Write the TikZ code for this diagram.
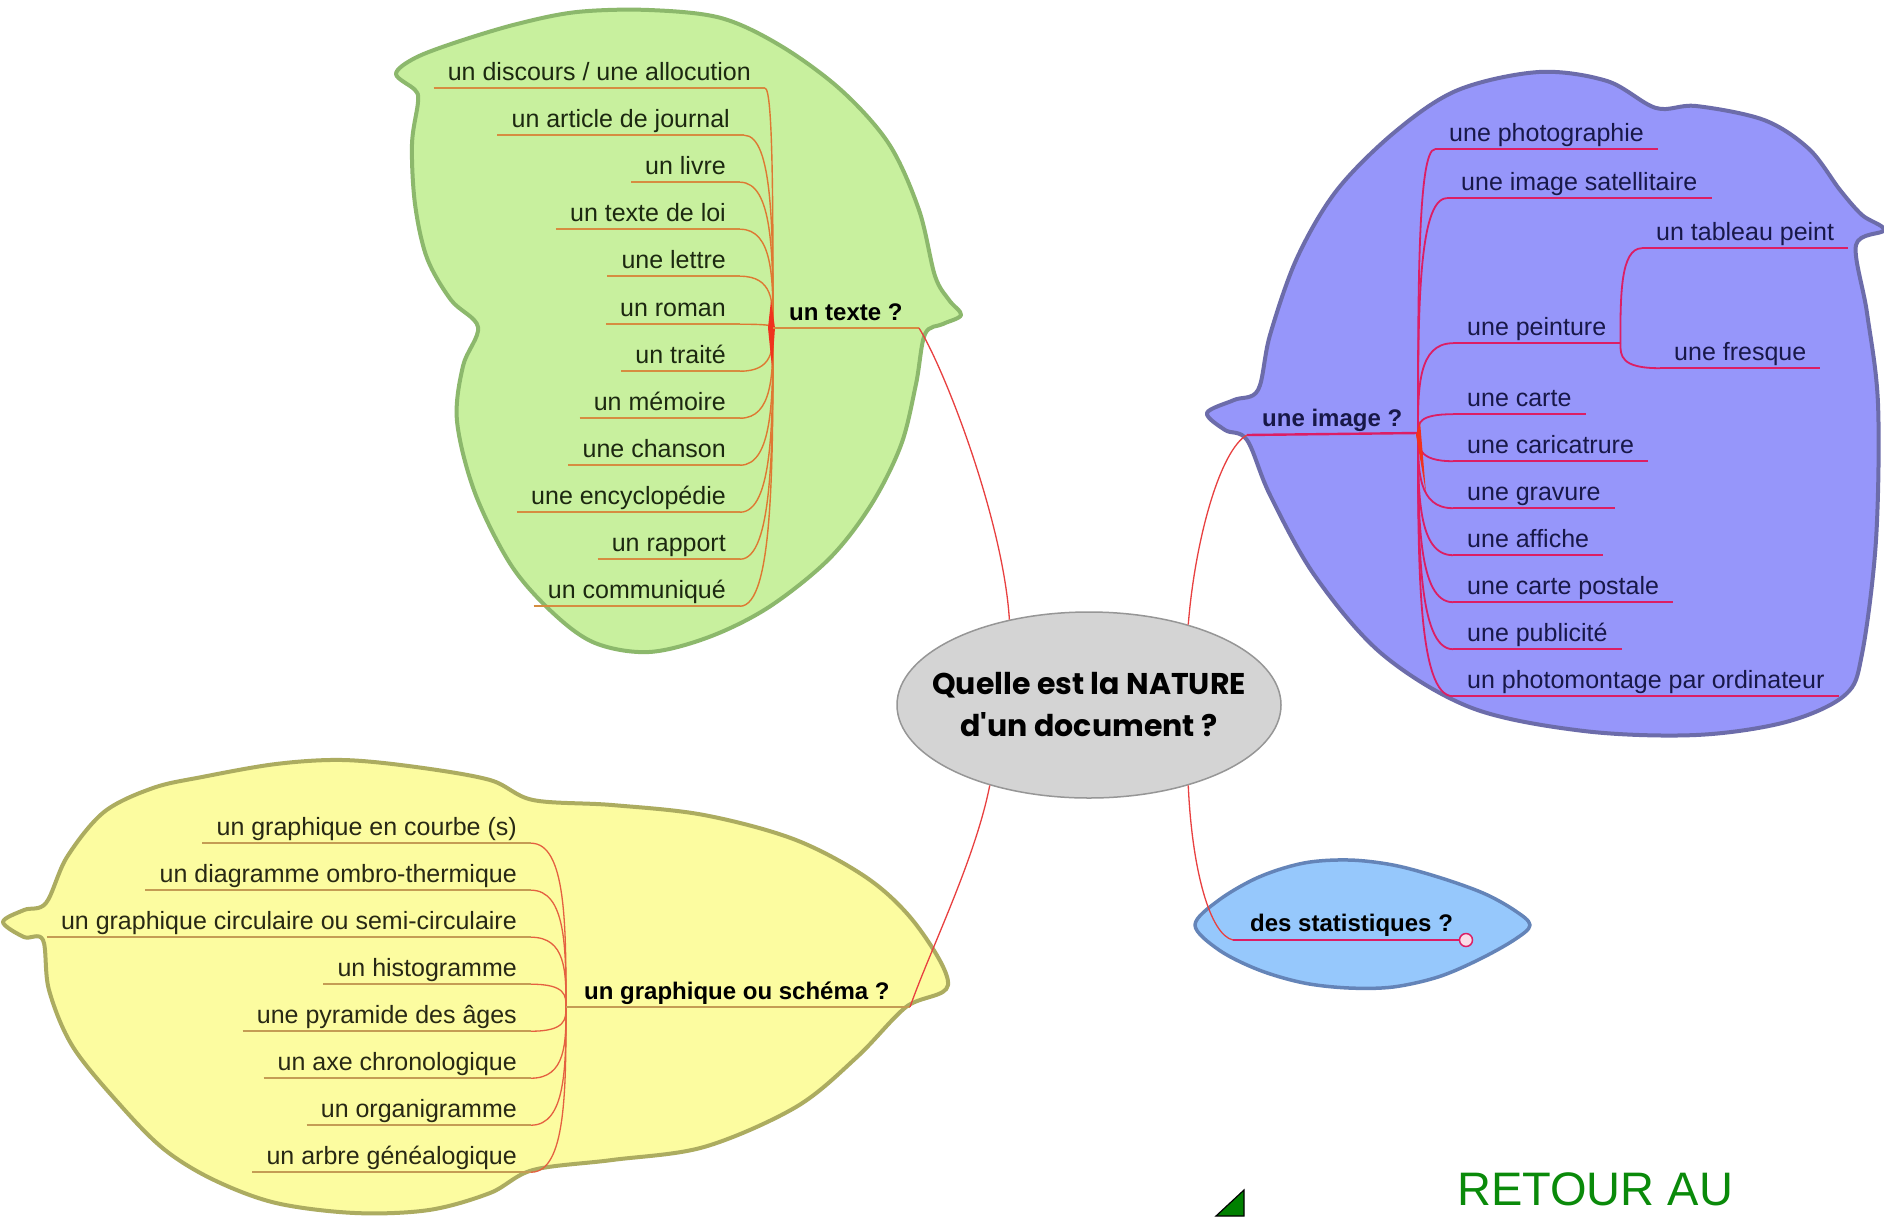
\documentclass[tikz,border=0pt]{standalone}
\usepackage{fontspec}
\setmainfont{Liberation Sans}
\newfontfamily\ctrfont{Poppins}
\usetikzlibrary{calc,shapes.geometric}
\definecolor{gfill}{RGB}{200,240,158}
\definecolor{gdraw}{RGB}{140,184,108}
\definecolor{bfill}{RGB}{150,150,250}
\definecolor{bdraw}{RGB}{108,108,170}
\definecolor{yfill}{RGB}{252,252,160}
\definecolor{ydraw}{RGB}{172,172,96}
\definecolor{sfill}{RGB}{150,200,252}
\definecolor{sdraw}{RGB}{100,132,184}
\definecolor{cfill}{RGB}{212,212,212}
\definecolor{cdraw}{RGB}{150,150,150}
\definecolor{gul}{RGB}{214,140,64}
\definecolor{gbr}{RGB}{222,120,50}
\definecolor{trunk}{RGB}{240,50,30}
\definecolor{bul}{RGB}{220,30,100}
\definecolor{yul}{RGB}{196,156,84}
\definecolor{ybr}{RGB}{228,96,64}
\definecolor{conn}{RGB}{232,64,64}
\definecolor{gtxt}{RGB}{28,40,16}
\definecolor{btxt}{RGB}{24,24,72}
\definecolor{ytxt}{RGB}{40,40,20}
\definecolor{retour}{RGB}{10,138,10}
\newcommand{\leaffont}{\fontsize{25}{30}\selectfont}
\newcommand{\topicfont}{\fontsize{24}{28}\selectfont\bfseries}
\tikzset{
  blob/.style={line width=4pt, line join=round},
  leafR/.style={anchor=base east, inner xsep=14pt, inner ysep=0pt, text height=18pt, text depth=8pt, font=\leaffont},
  leafL/.style={anchor=base west, inner xsep=14pt, inner ysep=0pt, text height=18pt, text depth=8pt, font=\leaffont},
  topic/.style={anchor=base west, inner sep=0pt, font=\topicfont},
  gline/.style={draw=gul, line width=2pt},
  gbranch/.style={draw=gbr, line width=1.4pt},
  bline/.style={draw=bul, line width=2.4pt},
  bbranch/.style={draw=bul, line width=1.8pt},
  yline/.style={draw=yul, line width=2pt},
  ybranch/.style={draw=ybr, line width=1.3pt},
  mainconn/.style={draw=conn, line width=1.3pt},
}
\begin{document}
\begin{tikzpicture}[x=1pt,y=-1pt]
\useasboundingbox (0,0) rectangle (1884,1216);
\fill[white] (0,0) rectangle (1884,1216);

% ---------- blobs ----------
\draw[blob, fill=gfill, draw=gdraw] plot[smooth cycle, tension=0.55] coordinates {
 (396,74) (415,58) (457,42) (517,24) (577,12) (649,10) (721,18) (781,46) (841,90)
 (889,144) (919,210) (935,276) (949,300) (961,315) (943,324) (925,334) (916,384)
 (901,445) (871,505) (829,559) (769,607) (709,637) (649,652) (595,643) (553,613)
 (511,565) (475,493) (457,421) (463,366) (478,327) (451,300) (427,258) (415,204)
 (412,144) (418,102) (415,90)};

\draw[blob, fill=bfill, draw=bdraw] plot[smooth cycle, tension=0.55] coordinates {
 (1207,413) (1234,400) (1258,390) (1270,335) (1297,258) (1337,190) (1396,131)
 (1458,90) (1539,72) (1607,81) (1656,108) (1696,106) (1764,120) (1809,149)
 (1840,190) (1862,215) (1884,230) (1856,245) (1867,313) (1878,404) (1876,540)
 (1862,654) (1845,695) (1786,722) (1696,735) (1584,731) (1472,708) (1382,654)
 (1315,576) (1270,495) (1247,440) (1225,430)};

\draw[blob, fill=yfill, draw=ydraw] plot[smooth cycle, tension=0.55] coordinates {
 (3,922) (24,910) (46,903) (67,857) (104,812) (153,788) (202,777) (276,764)
 (343,760) (416,767) (490,780) (533,800) (612,805) (704,815) (796,840) (870,880)
 (918,927) (948,985) (906,1007) (857,1057) (796,1107) (704,1147) (612,1160)
 (533,1170) (490,1193) (429,1210) (355,1213) (276,1203) (214,1180) (165,1150)
 (122,1107) (73,1047) (49,990) (43,940) (24,937)};

\draw[blob, line width=3.5pt, fill=sfill, draw=sdraw] plot[smooth cycle, tension=0.55] coordinates {
 (1195,925) (1219,900) (1259,877) (1304,863) (1349,860) (1393,865) (1438,877)
 (1483,893) (1514,910) (1530,925) (1514,940) (1478,960) (1438,977) (1393,987)
 (1349,988) (1304,983) (1259,970) (1219,950)};

% ---------- centre ----------
\node[ellipse, draw=cdraw, fill=cfill, line width=1.5pt, minimum width=384pt, minimum height=186pt,
      inner sep=0pt] (c) at (1089,705) {};
\node[inner sep=0pt, align=center, font=\ctrfont\bfseries\fontsize{30}{42}\selectfont] (ctext) at (c.center)
      {Quelle est la NATURE\\d'un document ?};

% ---------- un texte ? ----------
\coordinate (TJ) at (773,328);
\coordinate (TE) at (919,328);
\node[topic, text=black] (T) at (789,320) {un texte ?};
\node[leafR, text=gtxt] (g1) at (765,80) {un discours / une allocution};
\node[leafR, text=gtxt] (g2) at (744,127) {un article de journal};
\node[leafR, text=gtxt] (g3) at (740,174) {un livre};
\node[leafR, text=gtxt] (g4) at (740,221) {un texte de loi};
\node[leafR, text=gtxt] (g5) at (740,268) {une lettre};
\node[leafR, text=gtxt] (g6) at (740,316) {un roman};
\node[leafR, text=gtxt] (g7) at (740,363) {un traité};
\node[leafR, text=gtxt] (g8) at (740,410) {un mémoire};
\node[leafR, text=gtxt] (g9) at (740,457) {une chanson};
\node[leafR, text=gtxt] (g10) at (740,504) {une encyclopédie};
\node[leafR, text=gtxt] (g11) at (740,551) {un rapport};
\node[leafR, text=gtxt] (g12) at (740,598) {un communiqué};
\foreach \n in {g1,g2,g3,g4,g5,g6,g7,g8,g9,g10,g11,g12} {
  \draw[gline] (\n.south west) -- (\n.south east);
  \draw[gbranch] (\n.south east) .. controls (TJ |- \n.south east) and ($(TJ)!0.5!(TJ |- \n.south east)$) .. (TJ);
}
\fill[trunk] ($(TJ)+(-2,-28)$) -- ($(TJ)+(2,0)$) -- ($(TJ)+(-1,40)$) -- ($(TJ)+(-5,0)$) -- cycle;
\draw[gline] (TJ) -- (TE);

% ---------- une image ? ----------
\coordinate (IJ) at (1418,433);
\coordinate (IE) at (1247,435);
\node[topic, text=btxt] (I) at (1262,426) {une image ?};
\node[leafL, text=btxt] (b1) at (1435,141) {une photographie};
\node[leafL, text=btxt] (b2) at (1447,190) {une image satellitaire};
\node[leafL, text=btxt] (b3) at (1453,335) {une peinture};
\node[leafL, text=btxt] (b4) at (1453,406) {une carte};
\node[leafL, text=btxt] (b5) at (1453,453) {une caricatrure};
\node[leafL, text=btxt] (b6) at (1453,500) {une gravure};
\node[leafL, text=btxt] (b7) at (1453,547) {une affiche};
\node[leafL, text=btxt] (b8) at (1453,594) {une carte postale};
\node[leafL, text=btxt] (b9) at (1453,641) {une publicité};
\node[leafL, text=btxt] (b10) at (1453,688) {un photomontage par ordinateur};
\node[leafL, text=btxt] (b11) at (1642,240) {un tableau peint};
\node[leafL, text=btxt] (b12) at (1660,360) {une fresque};
\draw[bline] (IE) -- (IJ);
\foreach \n in {b1,b2,b3,b4,b5,b6,b7,b8,b9,b10} {
  \draw[bline] (\n.south west) -- (\n.south east);
  \draw[bbranch] (IJ) .. controls ($(IJ)!0.5!(IJ |- \n.south west)$) and (IJ |- \n.south west) .. (\n.south west);
}
\fill[trunk] ($(IJ)+(2,-12)$) -- ($(IJ)+(3,0)$) -- ($(IJ)+(8,60)$) -- ($(IJ)+(-2,2)$) -- cycle;
\foreach \n in {b11,b12} {
  \draw[bline] (\n.south west) -- (\n.south east);
  \draw[bbranch] (b3.south east) .. controls ($(b3.south east)!0.5!(b3.south east |- \n.south west)$) and (b3.south east |- \n.south west) .. (\n.south west);
}

% ---------- un graphique ou schema ? ----------
\coordinate (GJ) at (566,1007);
\coordinate (GE) at (910,1007);
\node[topic, text=black] (G) at (584,999) {un graphique ou schéma ?};
\node[leafR, text=ytxt] (y1) at (531,835) {un graphique en courbe (s)};
\node[leafR, text=ytxt] (y2) at (531,882) {un diagramme ombro-thermique};
\node[leafR, text=ytxt] (y3) at (531,929) {un graphique circulaire ou semi-circulaire};
\node[leafR, text=ytxt] (y4) at (531,976) {un histogramme};
\node[leafR, text=ytxt] (y5) at (531,1023) {une pyramide des âges};
\node[leafR, text=ytxt] (y6) at (531,1070) {un axe chronologique};
\node[leafR, text=ytxt] (y7) at (531,1117) {un organigramme};
\node[leafR, text=ytxt] (y8) at (531,1164) {un arbre généalogique};
\foreach \n in {y1,y2,y3,y4,y5,y6,y7,y8} {
  \draw[yline] (\n.south west) -- (\n.south east);
  \draw[ybranch] (\n.south east) .. controls (GJ |- \n.south east) and ($(GJ)!0.5!(GJ |- \n.south east)$) .. (GJ);
}
\draw[yline] (GJ) -- (GE);

% ---------- des statistiques ? ----------
\coordinate (SE) at (1233,940);
\node[topic, text=black] (S) at (1250,931) {des statistiques ?};
\node[circle, draw=bul, fill=white!85!bul, line width=1.5pt, minimum size=13pt, inner sep=0pt] (SC) at (1466,940) {};
\draw[bline, line width=2pt] (SE) -- (SC.west);

% ---------- main connectors ----------
\draw[mainconn] (c.133) .. controls (1003,520) and (945,370) .. (TE);
\draw[mainconn] (c.39) .. controls (1195,540) and (1220,450) .. (IE);
\draw[mainconn] (c.219) .. controls (975,860) and (930,950) .. (GE);
\draw[mainconn] (c.321) .. controls (1192,870) and (1210,935) .. (SE);

% ---------- bottom ----------
\filldraw[fill=green!50!black, draw=black, line width=1.2pt] (1216,1216) -- (1244,1190) -- (1244,1216) -- cycle;
\node[anchor=base west, inner sep=0pt, text=retour, font=\fontsize{47}{50}\selectfont] (R) at (1457,1205) {RETOUR AU};
\end{tikzpicture}
\end{document}
